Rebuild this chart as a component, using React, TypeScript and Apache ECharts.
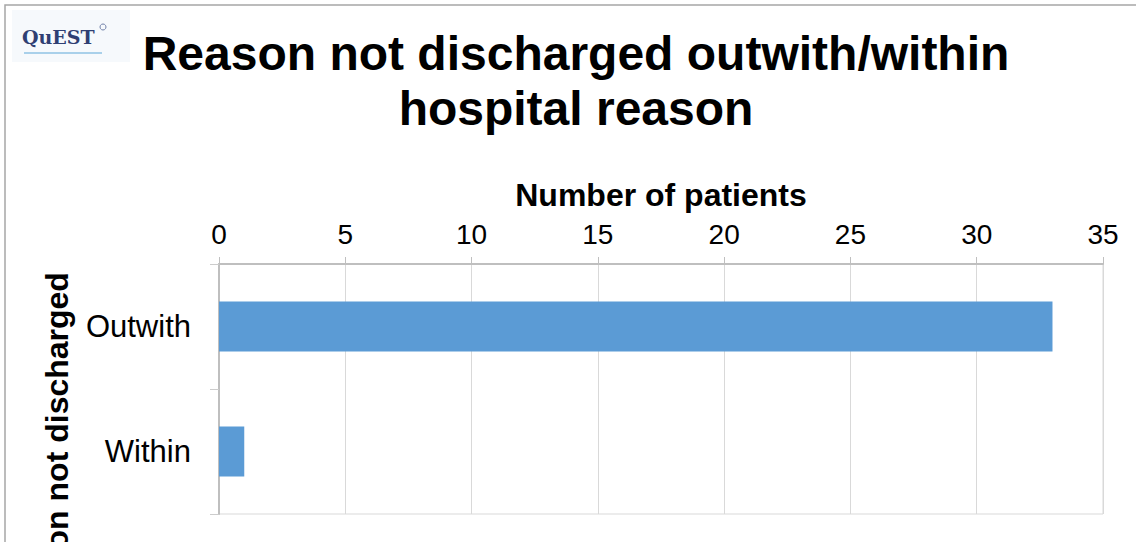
import React, { useEffect, useRef } from "react";
import * as echarts from "echarts";

// Discharge reasons and patient counts
const categories = ["Outwith", "Within"];
const patientCounts = [33, 1];
const valueTicks = { min: 0, max: 35, interval: 5 };

const FONT = "'Liberation Sans', Arial, sans-serif";

export default function App() {
  const ref = useRef<HTMLDivElement>(null);

  useEffect(() => {
    if (!ref.current) return;
    const chart = echarts.init(ref.current, null, { renderer: "svg" });
    chart.setOption({
      animation: false,
      backgroundColor: "#ffffff",
      grid: {
        left: 219,
        right: 33,
        top: 264,
        bottom: 28,
        show: true,
        borderColor: "#d9d9d9",
        borderWidth: 1,
      },
      xAxis: {
        type: "value",
        position: "top",
        min: valueTicks.min,
        max: valueTicks.max,
        interval: valueTicks.interval,
        name: "Number of patients",
        nameLocation: "middle",
        nameGap: 53,
        nameTextStyle: {
          fontFamily: FONT,
          fontSize: 32,
          fontWeight: "bold",
          color: "#000000",
        },
        axisLine: { show: true, lineStyle: { color: "#bfbfbf", width: 2 } },
        axisTick: { show: true, length: 7, lineStyle: { color: "#bfbfbf" } },
        axisLabel: {
          fontFamily: FONT,
          fontSize: 28,
          color: "#000000",
          margin: 16,
        },
        splitLine: { show: true, lineStyle: { color: "#d9d9d9", width: 1 } },
      },
      yAxis: {
        type: "category",
        inverse: true,
        data: categories,
        axisLine: { show: true, lineStyle: { color: "#bfbfbf", width: 2 } },
        axisTick: { show: true, length: 9, lineStyle: { color: "#cccccc" } },
        axisLabel: {
          fontFamily: FONT,
          fontSize: 31,
          color: "#000000",
          margin: 28,
        },
        splitLine: { show: false },
      },
      series: [
        {
          type: "bar",
          data: patientCounts,
          barWidth: 50,
          itemStyle: { color: "#5b9bd5" },
        },
      ],
      graphic: [
        {
          type: "rect",
          silent: true,
          shape: { x: 5, y: 5, width: 1140, height: 545 },
          style: { fill: "none", stroke: "#a6a6a6", lineWidth: 1.5 },
        },
        // logo block
        {
          type: "rect",
          silent: true,
          shape: { x: 12, y: 10, width: 118, height: 52 },
          style: { fill: "#f6f9fc" },
        },
        {
          type: "text",
          silent: true,
          x: 22,
          y: 27,
          style: {
            text: "QuEST",
            font: "bold 19px 'DejaVu Serif', serif",
            fill: "#2f3f73",
          },
        },
        {
          type: "circle",
          silent: true,
          shape: { cx: 103, cy: 27, r: 3 },
          style: { fill: "none", stroke: "#6f7fa8", lineWidth: 1 },
        },
        {
          type: "rect",
          silent: true,
          shape: { x: 24, y: 52, width: 78, height: 2 },
          style: { fill: "#a9d0ea" },
        },
        // chart title
        {
          type: "text",
          silent: true,
          x: 576,
          y: 26,
          style: {
            text: "Reason not discharged outwith/within\nhospital reason",
            font: `bold 48px ${FONT}`,
            lineHeight: 55,
            fill: "#000000",
            align: "center",
            verticalAlign: "top",
          },
        },
        // category axis title, running past the lower edge
        {
          type: "text",
          silent: true,
          x: 57,
          y: 449,
          rotation: Math.PI / 2,
          style: {
            text: "Reason not discharged",
            font: `bold 32px ${FONT}`,
            fill: "#000000",
            align: "center",
            verticalAlign: "middle",
          },
        },
      ],
    });
    return () => chart.dispose();
  }, []);

  return (
    <div
      ref={ref}
      style={{ position: "fixed", left: 0, top: 0, width: 1136, height: 542 }}
    />
  );
}
